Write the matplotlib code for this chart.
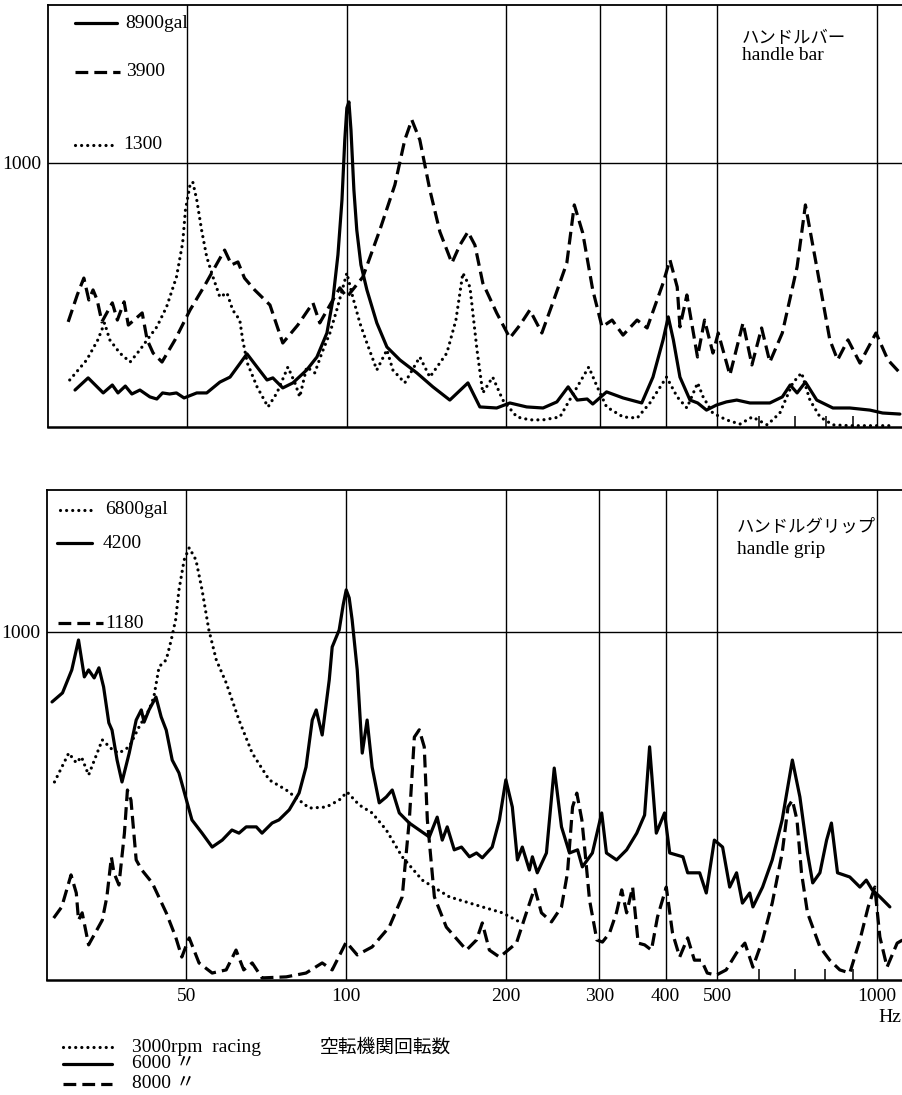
import matplotlib
matplotlib.use("Agg")
import matplotlib.pyplot as plt
from matplotlib.lines import Line2D
from matplotlib.ticker import FixedLocator, NullFormatter

# ---------------------------------------------------------------- data
grid_freqs = [50, 100, 200, 300, 400, 500, 1000]
minor_freqs = [600, 700, 800, 900]
tick_labels = ["50", "100", "200", "300", "400", "500", "1000"]

# handle bar, 3000 rpm racing (dotted)
bar_3000_f = [30.0, 32.3, 33.9, 34.9, 35.7, 37.3, 39.0, 40.7, 42.0, 43.8,
              45.7, 47.7, 49.0, 49.6, 50.6, 51.2, 52.1, 53.2, 54.4, 55.9,
              57.6, 59.4, 60.9, 62.8, 63.6, 64.9, 67.7, 71.0, 73.8, 77.4,
              79.8, 81.5, 84.0, 87.0, 89.7, 92.9, 95.7, 100, 102.6, 105.8,
              109.1, 113.9, 119.0, 122.1, 128.6, 137.3, 143.4, 154.4, 160.6, 165.5,
              170.7, 176.0, 180.5, 188.4, 196.9, 209.3, 221.4, 234.5, 252.3, 272,
              286, 296.7, 309, 332, 353, 373, 401, 420, 438, 459,
              470, 490, 520, 551.5, 582, 621, 656, 694, 721, 747.5,
              781, 826, 889, 1070]
bar_3000_v = [178, 254, 330, 394, 330, 280, 246, 292, 330, 379,
              455, 568, 697, 822, 917, 928, 860, 746, 644, 568,
              492, 508, 443, 405, 330, 242, 152, 76, 129, 227,
              167, 114, 227, 205, 280, 356, 443, 583, 492, 394,
              318, 216, 292, 216, 167, 265, 189, 280, 405, 583,
              530, 292, 129, 189, 102, 38, 27, 27, 38, 152,
              227, 152, 76, 38, 34, 91, 189, 114, 72, 167,
              114, 53, 27, 11, 38, 8, 53, 167, 205, 102,
              38, 8, 5, 5]

# handle bar, 6000 rpm (solid)
bar_6000_f = [30.7, 32.5, 34.7, 36.1, 37.0, 38.2, 39.3, 40.7, 42.5, 43.8,
              44.9, 46.3, 47.7, 49.3, 52.1, 54.4, 57.6, 60.2, 64.8, 67.7,
              70.7, 72.5, 75.7, 79.1, 84.0, 87.8, 91.7, 94.1, 96.2, 97.9,
              99.1, 100, 100.9, 101.8, 103.1, 104.4, 106.3, 109.1, 113.9, 119,
              125.9, 135.5, 145.3, 156.4, 169.2, 178.2, 191.7, 203, 218.4, 234.5,
              249, 261.5, 272, 284, 291, 309, 332, 360, 378, 395,
              404, 413, 425, 444, 459, 477, 498, 520, 544, 576,
              628, 663, 686, 707, 733, 770, 826, 889, 970, 1025,
              1105]
bar_6000_v = [140, 186, 129, 159, 129, 155, 125, 140, 114, 106,
              129, 125, 129, 110, 129, 129, 170, 189, 277, 227,
              178, 186, 148, 167, 216, 265, 356, 481, 652, 860,
              1087, 1208, 1231, 1125, 898, 746, 614, 519, 394, 303,
              254, 205, 152, 102, 167, 76, 72, 91, 76, 72,
              95, 152, 102, 106, 87, 133, 110, 91, 189, 330,
              417, 330, 189, 102, 91, 64, 83, 95, 102, 91,
              91, 114, 159, 129, 170, 102, 72, 72, 64, 53,
              49]

# handle bar, 8000 rpm (dashed)
bar_8000_f = [29.8, 31.0, 31.9, 32.6, 33.2, 33.8, 34.5, 36.1, 36.9, 38.0,
              38.7, 41.1, 42.0, 43.1, 44.8, 47.4, 50.6, 54.0, 57.1, 58.8,
              60.6, 62.3, 64.1, 67.0, 71.6, 75.7, 80.8, 86.3, 88.9, 94.1,
              97.0, 100, 107.2, 115.4, 123.2, 128.6, 132.6, 137.3, 143.4, 149.8,
              157.8, 163.4, 169.2, 174.4, 180.5, 191.7, 203, 212.1, 221.4, 233.3,
              244.6, 260, 268.6, 278.6, 291, 303, 316.5, 331.9, 352.8, 368.5,
              395, 406.9, 420, 425, 438, 458.7, 473, 490.5, 502, 528,
              559, 581, 606, 628, 663, 707, 733, 770, 815, 843,
              882, 929, 996, 1049, 1105]
bar_8000_v = [398, 500, 564, 481, 519, 481, 398, 470, 405, 474,
              386, 432, 330, 280, 246, 330, 443, 538, 625, 670,
              614, 625, 564, 519, 462, 318, 386, 470, 394, 481,
              527, 492, 568, 746, 917, 1087, 1163, 1087, 898, 739,
              621, 689, 739, 689, 545, 432, 337, 386, 443, 356,
              470, 621, 841, 735, 519, 379, 405, 348, 405, 375,
              545, 633, 530, 379, 500, 265, 405, 280, 356, 197,
              394, 235, 375, 246, 356, 606, 841, 606, 330, 254,
              330, 242, 356, 254, 205]

# handle grip, 3000 rpm racing (dotted)
grip_3000_f = [28.2, 30.0, 31.0, 31.7, 32.7, 34.7, 36.3, 37.3, 39.0, 40.7,
               42.5, 43.4, 44.4, 45.8, 46.8, 47.7, 48.4, 49.5, 50.6, 52.1,
               53.5, 55.1, 56.9, 59.4, 62.8, 66.5, 71.6, 77.1, 81.5, 85.2,
               91.7, 97.0, 100.4, 105.8, 111.9, 119.0, 127.5, 139.1, 156.4, 180.5,
               197.0, 212.1]
grip_3000_v = [569, 652, 624, 641, 589, 690, 661, 652, 670, 727,
               776, 813, 900, 920, 977, 1035, 1121, 1207, 1242, 1207,
               1121, 1006, 920, 854, 747, 652, 575, 546, 517, 494,
               497, 517, 540, 503, 480, 431, 354, 287, 239, 210,
               193, 167]

# handle grip, 6000 rpm (solid)
grip_6000_f = [27.9, 29.2, 30.4, 31.3, 32.1, 32.7, 33.5, 34.2, 34.9, 35.7,
               36.2, 37.0, 37.8, 39.0, 40.2, 41.1, 41.6, 42.5, 43.8, 44.8,
               45.8, 47.0, 48.4, 50.0, 51.2, 53.5, 55.9, 58.4, 60.9, 62.8,
               64.8, 67.7, 69.4, 72.5, 74.7, 78.1, 81.5, 84.0, 86.3, 87.8,
               90.1, 92.9, 94.1, 97.0, 98.7, 100, 101.3, 102.6, 104.9, 107.2,
               109.5, 111.9, 115.4, 119.0, 122.1, 125.9, 131.5, 137.3, 143.4, 148.4,
               151.7, 155.0, 159.8, 164.9, 170.7, 176, 180.5, 188.4, 194.4, 199.9,
               205.6, 210.2, 214.7, 221.4, 224.3, 229.1, 238.4, 246.6, 254.5, 263.5,
               272.9, 278.6, 291, 303, 309.3, 323.2, 337.6, 352.8, 365, 373,
               384, 398, 407, 431, 440, 463.5, 477, 494, 512, 528,
               544, 558, 576, 584, 609, 635, 663, 693, 716, 740,
               757, 781, 804, 821, 843, 889, 929, 955, 980, 1013,
               1058]
grip_6000_v = [799, 825, 891, 977, 871, 891, 868, 897, 842, 739,
               718, 632, 569, 652, 747, 776, 741, 776, 813, 756,
               718, 632, 595, 517, 460, 422, 382, 402, 431, 422,
               440, 440, 422, 451, 460, 489, 537, 612, 747, 776,
               704, 862, 957, 1006, 1078, 1121, 1098, 1035, 891, 652,
               747, 612, 509, 526, 546, 480, 451, 431, 411, 468,
               402, 440, 374, 382, 354, 365, 351, 382, 460, 575,
               497, 345, 382, 316, 354, 308, 365, 609, 440, 365,
               374, 325, 365, 480, 365, 345, 374, 422, 474, 670,
               422, 480, 365, 354, 308, 308, 250, 402, 382, 267,
               308, 221, 250, 210, 267, 345, 460, 632, 526, 365,
               279, 308, 402, 451, 308, 296, 267, 287, 259, 239,
               210]

# handle grip, 8000 rpm (dashed)
grip_8000_f = [28.1, 29.1, 30.3, 31.0, 31.3, 31.8, 32.7, 33.9, 34.7, 35.4,
               36.1, 36.5, 37.3, 38.2, 38.7, 39.3, 40.2, 41.2, 43.1, 45.8,
               47.7, 49.0, 50.6, 52.8, 55.9, 59.4, 62.0, 64.1, 66.5, 69.4,
               77.1, 84.0, 90.1, 94.1, 100, 104.9, 111.9, 120.5, 127.5, 131.5,
               134.4, 137.3, 140.3, 142.2, 146.6, 154.4, 168.5, 176.0, 180.5, 186.1,
               194.4, 199, 209.3, 218.5, 226.5, 233.3, 243.7, 254.5, 261.2, 267,
               272, 278, 282, 287.4, 296.7, 304, 313.5, 323, 330.5, 337.6,
               346.5, 355, 365, 376, 386, 401, 412, 425, 440, 453,
               467, 479, 498, 520, 544, 564, 584, 609, 635, 663,
               680, 693, 707, 721, 740, 781, 815, 851.5, 889, 929,
               963, 991, 1013, 1045, 1092, 1118]
grip_8000_v = [178, 210, 302, 250, 172, 193, 101, 144, 172, 239,
               353, 308, 273, 422, 546, 517, 345, 316, 279, 193,
               124, 66, 121, 49, 20, 29, 86, 29, 49, 6,
               9, 20, 49, 29, 109, 72, 95, 152, 239, 460,
               698, 719, 670, 460, 239, 152, 86, 115, 164, 86,
               66, 78, 106, 193, 264, 193, 167, 210, 308, 497,
               537, 460, 365, 230, 115, 109, 135, 193, 259, 193,
               267, 106, 101, 86, 181, 267, 135, 66, 121, 57,
               57, 20, 14, 29, 78, 106, 37, 115, 221, 365,
               497, 517, 460, 308, 193, 95, 57, 29, 20, 115,
               210, 267, 124, 37, 106, 115]

bar_peaks = ["8900gal", "3900", "1300"]
grip_peaks = ["6800gal", "4200", "1180"]
speed_labels = ["3000rpm  racing", "6000 〃", "8000 〃"]

# ---------------------------------------------------------------- styling
W, H = 903, 1095
fig = plt.figure(figsize=(W / 100, H / 100), dpi=100)
fig.patch.set_facecolor("white")

SERIF = ["Liberation Serif", "Noto Sans CJK JP"]
CJK = ["Noto Sans CJK JP", "Liberation Serif"]
FS = 14

LINE = {
    "dot": dict(color="black", lw=2.3, linestyle=(0, (0.01, 1.9)),
                dash_capstyle="round"),
    "solid": dict(color="black", lw=2.3, linestyle="-",
                  solid_capstyle="round", solid_joinstyle="round"),
    "dash": dict(color="black", lw=2.3, linestyle=(0, (4.0, 1.9)),
                 dash_capstyle="butt", dash_joinstyle="round"),
}


def fx(px):
    return px / W


def fy(py):
    return 1 - py / H


def setup(ax, ytop, show_labels):
    ax.set_xscale("log")
    ax.set_xlim(27.3, 1120)
    ax.set_ylim(0, ytop)
    for f in grid_freqs:
        ax.axvline(f, color="black", lw=1.0, zorder=1)
    ax.axhline(1000, color="black", lw=1.0, zorder=1)
    ax.spines["right"].set_visible(False)
    ax.spines["left"].set_linewidth(1.3)
    ax.spines["top"].set_linewidth(1.3)
    ax.spines["bottom"].set_linewidth(1.8)
    ax.xaxis.set_major_locator(FixedLocator(grid_freqs))
    ax.xaxis.set_minor_locator(FixedLocator(minor_freqs))
    ax.xaxis.set_minor_formatter(NullFormatter())
    ax.tick_params(axis="x", which="major", length=0, pad=6)
    ax.tick_params(axis="x", which="minor", direction="in", length=8,
                   width=1.1, color="black")
    if show_labels:
        ax.set_xticklabels(tick_labels, family=SERIF, fontsize=FS)
    else:
        ax.set_xticklabels([])
    ax.set_yticks([1000])
    ax.set_yticklabels(["1000"], family=SERIF, fontsize=FS)
    ax.tick_params(axis="y", length=0, pad=5)


# ---------------------------------------------------------------- handle bar
ax1 = fig.add_axes([fx(48), fy(427), fx(903) - fx(48), (427 - 5) / H])
setup(ax1, 1598, False)
ax1.plot(bar_3000_f, bar_3000_v, zorder=3, **LINE["dot"])
ax1.plot(bar_6000_f, bar_6000_v, zorder=3, **LINE["solid"])
ax1.plot(bar_8000_f, bar_8000_v, zorder=3, **LINE["dash"])

# ---------------------------------------------------------------- handle grip
ax2 = fig.add_axes([fx(47), fy(980), fx(903) - fx(47), (980 - 490) / H])
setup(ax2, 1408, True)
ax2.plot(grip_3000_f, grip_3000_v, zorder=3, **LINE["dot"])
ax2.plot(grip_6000_f, grip_6000_v, zorder=3, **LINE["solid"])
ax2.plot(grip_8000_f, grip_8000_v, zorder=3, **LINE["dash"])


def key(x0, x1, y, style, label, xt, fam=SERIF):
    fig.add_artist(Line2D([fx(x0), fx(x1)], [fy(y), fy(y)],
                          transform=fig.transFigure, zorder=5, **LINE[style]))
    fig.text(fx(xt), fy(y), label, ha="left", va="center", fontsize=FS,
             family=fam, zorder=5)


# in-panel keys (peak acceleration of each trace)
key(75, 117, 23, "solid", bar_peaks[0], 125)
key(75, 120, 72, "dash", bar_peaks[1], 126)
key(75, 112, 145, "dot", bar_peaks[2], 123)

key(60, 95, 510, "dot", grip_peaks[0], 105)
key(57, 92, 543, "solid", grip_peaks[1], 103)
key(58, 103, 623, "dash", grip_peaks[2], 105)

# panel titles
fig.text(fx(742), fy(38), "ハンドルバー", ha="left", va="center",
         fontsize=12.5, family=CJK)
fig.text(fx(742), fy(56), "handle bar", ha="left", va="center",
         fontsize=FS, family=SERIF)
fig.text(fx(737), fy(527), "ハンドルグリップ", ha="left", va="center",
         fontsize=12.5, family=CJK)
fig.text(fx(737), fy(550), "handle grip", ha="left", va="center",
         fontsize=FS, family=SERIF)

# frequency unit
fig.text(fx(890), fy(1017), "Hz", ha="center", va="center",
         fontsize=FS, family=SERIF)

# engine speed key
key(63, 112, 1047, "dot", speed_labels[0], 132)
key(63, 112, 1064, "solid", speed_labels[1], 132)
key(63, 112, 1084, "dash", speed_labels[2], 132)
fig.text(fx(320), fy(1047), "空転機関回転数", ha="left", va="center",
         fontsize=13.5, family=CJK)

fig.savefig("out.png", dpi=100, facecolor="white")
